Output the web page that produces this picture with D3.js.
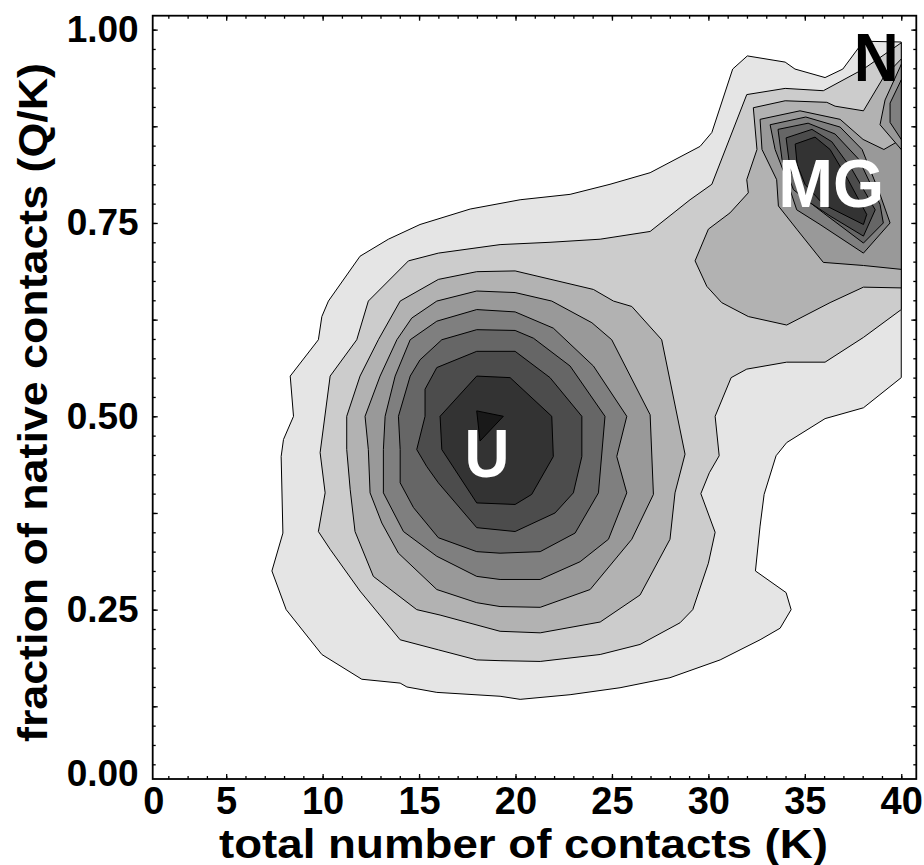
<!DOCTYPE html>
<html>
<head>
<meta charset="utf-8">
<script src="https://cdn.jsdelivr.net/npm/d3@7"></script>
<style>
  body { margin: 0; background: #fff; }
  svg text { font-family: "Liberation Sans", Arial, Helvetica, sans-serif; font-weight: bold; }
</style>
</head>
<body>
<div id="chart"></div>
<script>
// contour levels, lightest (outermost) to darkest
const levelFills = ["#e5e5e5", "#cccccc", "#b2b2b2", "#999999", "#7f7f7f", "#666666", "#4c4c4c", "#333333", "#191919"];

// each ring is a closed contour in data units: [K, Q]
const ringLight = [[13.41,0.729],[11.94,0.707],[10.30,0.649],[9.96,0.629],[9.78,0.599],[8.32,0.552],[8.49,0.500],[7.97,0.470],[7.85,0.448],[7.94,0.349],[7.37,0.300],[8.11,0.250],[9.96,0.192],[12.03,0.160],[14.02,0.155],[14.37,0.150],[15.92,0.143],[19.20,0.138],[20.24,0.134],[22.83,0.140],[25.42,0.149],[28.01,0.162],[30.61,0.185],[32.68,0.211],[33.72,0.226],[34.29,0.250],[34.03,0.272],[32.44,0.300],[32.68,0.358],[32.89,0.399],[33.51,0.449],[34.06,0.466],[36.05,0.497],[38.04,0.511],[40,0.550],[40,0.984],[38.04,0.985],[36.97,0.949],[36.05,0.938],[34.49,0.949],[33.98,0.958],[32.02,0.966],[31.26,0.949],[30.18,0.867],[29.57,0.849],[26.98,0.815],[24.90,0.800],[22.83,0.787],[20.24,0.780],[17.65,0.768],[15.05,0.748]];

const ringLevel2 = [[19.20,0.722],[16.00,0.711],[14.45,0.701],[12.37,0.649],[11.77,0.599],[10.39,0.552],[9.87,0.453],[10.13,0.401],[9.78,0.351],[10.39,0.328],[11.94,0.274],[14.02,0.211],[16.00,0.198],[17.99,0.185],[19.20,0.184],[21.28,0.183],[24.39,0.192],[26.46,0.205],[28.53,0.233],[29.19,0.250],[30.00,0.310],[30.35,0.350],[29.61,0.400],[30.05,0.427],[30.56,0.449],[30.35,0.500],[31.18,0.550],[31.99,0.561],[34.06,0.570],[36.05,0.570],[38.04,0.602],[40,0.638],[40,0.983],[38.04,0.949],[35.96,0.921],[33.98,0.924],[31.99,0.916],[30.18,0.800],[29.05,0.780],[26.98,0.739],[24.39,0.729],[21.79,0.725]];

// unfolded basin (U)
const ringU3 = [[19.98,0.688],[17.99,0.687],[16.00,0.677],[14.02,0.649],[12.89,0.599],[11.94,0.552],[11.25,0.500],[11.25,0.457],[11.43,0.405],[11.68,0.351],[12.63,0.293],[14.88,0.250],[16.09,0.243],[19.20,0.222],[21.28,0.220],[24.39,0.234],[26.46,0.269],[28.01,0.341],[28.27,0.401],[28.79,0.451],[27.58,0.599],[26.03,0.642],[25.08,0.649],[24.04,0.664]];
const ringU4 = [[19.98,0.660],[17.99,0.662],[15.92,0.649],[14.62,0.627],[13.85,0.599],[12.98,0.552],[12.20,0.500],[12.37,0.457],[12.46,0.401],[13.07,0.362],[13.93,0.323],[15.92,0.276],[17.99,0.259],[19.20,0.254],[21.28,0.253],[23.87,0.276],[26.03,0.341],[27.15,0.399],[26.98,0.502],[24.99,0.599],[23.96,0.621],[21.88,0.649]];
const ringU5 = [[19.98,0.635],[17.99,0.638],[15.92,0.623],[14.54,0.599],[13.76,0.552],[13.24,0.500],[13.15,0.457],[13.15,0.401],[14.19,0.351],[15.92,0.319],[17.99,0.293],[19.20,0.289],[21.28,0.289],[23.35,0.312],[24.82,0.341],[25.77,0.401],[25.25,0.448],[25.77,0.500],[24.04,0.565],[21.96,0.614]];
const ringU6 = [[19.98,0.611],[17.99,0.612],[16.18,0.599],[15.05,0.573],[14.54,0.552],[13.93,0.500],[14.02,0.457],[14.02,0.414],[14.71,0.382],[16.00,0.343],[17.99,0.325],[19.20,0.323],[21.28,0.325],[23.09,0.349],[24.30,0.401],[24.64,0.500],[22.83,0.565],[20.93,0.601]];
const ringU7 = [[19.98,0.584],[17.99,0.584],[15.92,0.563],[15.31,0.535],[15.31,0.500],[14.88,0.457],[15.40,0.435],[16.00,0.414],[17.99,0.356],[19.98,0.351],[22.05,0.375],[23.00,0.401],[23.44,0.448],[23.44,0.500],[21.79,0.550]];
const ringU8 = [[19.72,0.550],[17.99,0.552],[16.09,0.500],[16.18,0.457],[17.99,0.388],[19.98,0.386],[20.84,0.399],[21.96,0.448],[21.88,0.500]];
const ringU9 = [[17.99,0.507],[19.37,0.500],[18.16,0.468]];

// misfolded basin (MG) and native corner (N)
const ringMG3 = [[40,0.962],[39.07,0.938],[38.04,0.895],[36.57,0.901],[36.14,0.906],[33.98,0.908],[32.33,0.899],[32.52,0.845],[31.99,0.806],[32.07,0.789],[31.12,0.763],[30.00,0.742],[29.31,0.701],[29.92,0.668],[30.69,0.647],[32.07,0.629],[34.06,0.618],[36.31,0.647],[38.04,0.667],[40,0.666]];
const ringMG4 = [[32.68,0.884],[34.75,0.895],[36.83,0.884],[38.02,0.858],[39.10,0.845],[40,0.858],[40,0.690],[38.04,0.695],[35.96,0.699],[34.58,0.742],[33.63,0.772],[33.54,0.806],[32.78,0.845]];
const ringMG5 = [[33.20,0.877],[35.05,0.887],[36.83,0.874],[37.97,0.845],[38.90,0.787],[39.42,0.750],[38.04,0.711],[35.79,0.748],[34.58,0.767],[34.06,0.806],[33.46,0.845]];
const ringMG6 = [[33.61,0.871],[35.17,0.879],[36.57,0.865],[37.81,0.832],[38.90,0.774],[39.07,0.750],[38.04,0.724],[35.96,0.763],[34.41,0.793],[33.82,0.832]];
const ringMG7 = [[34.03,0.860],[35.37,0.871],[36.40,0.855],[37.45,0.819],[38.65,0.767],[38.04,0.733],[36.31,0.759],[35.10,0.779],[34.24,0.819]];
const ringMG8 = [[34.50,0.852],[35.53,0.861],[36.31,0.845],[37.24,0.806],[38.21,0.761],[38.04,0.748],[35.96,0.774],[35.01,0.800],[34.60,0.826]];
const ringN4 = [[40,0.955],[39.16,0.909],[38.90,0.877],[40,0.845]];
const ringN5 = [[40,0.935],[39.42,0.905],[39.42,0.880],[40,0.858]];

const contourLevels = [
  { level: 0, rings: [ringLight] },
  { level: 1, rings: [ringLevel2] },
  { level: 2, rings: [ringU3, ringMG3] },
  { level: 3, rings: [ringU4, ringMG4, ringN4] },
  { level: 4, rings: [ringU5, ringMG5, ringN5] },
  { level: 5, rings: [ringU6, ringMG6] },
  { level: 6, rings: [ringU7, ringMG7] },
  { level: 7, rings: [ringU8, ringMG8] },
  { level: 8, rings: [ringU9] }
];

const xDomain = [1.19, 40.78];
const yDomain = [0.031, 1.018];
const xMinorTicks = d3.range(2, 41);
const xLabelTicks = [5, 10, 15, 20, 25, 30, 35, 40];
const yMinorTicks = d3.range(2, 41).map(i => i * 0.025);
const yMajorTicks = d3.range(1, 9).map(i => i * 0.125);
const yLabelTicks = [0.25, 0.5, 0.75, 1.0];

const basinLabels = [
  { text: "U", k: 18.52, q: 0.422, color: "#fff", len: 45 },
  { text: "MG", k: 36.37, q: 0.771, color: "#fff", len: 106 },
  { text: "N", k: 38.70, q: 0.933, color: "#000", len: 45 }
];

const width = 924, height = 865;
const frame = { left: 152.7, right: 916.3, top: 15.7, bottom: 779 };

const svg = d3.select("#chart").append("svg")
  .attr("width", width)
  .attr("height", height);

const x = d3.scaleLinear().domain(xDomain).range([frame.left, frame.right]);
const y = d3.scaleLinear().domain(yDomain).range([frame.bottom, frame.top]);

svg.append("clipPath").attr("id", "plot-clip")
  .append("rect")
  .attr("x", frame.left).attr("y", frame.top)
  .attr("width", frame.right - frame.left)
  .attr("height", frame.bottom - frame.top);

const line = d3.line()
  .x(d => x(d[0]))
  .y(d => y(d[1]))
  .curve(d3.curveLinearClosed);

const plot = svg.append("g").attr("clip-path", "url(#plot-clip)");

contourLevels.forEach(c => {
  plot.selectAll(null)
    .data(c.rings)
    .enter()
    .append("path")
    .attr("d", line)
    .attr("fill", levelFills[c.level])
    .attr("stroke", "#000")
    .attr("stroke-width", 1)
    .attr("stroke-linejoin", "round");
});

// basin labels
svg.selectAll(".basin")
  .data(basinLabels)
  .enter()
  .append("text")
  .attr("class", "basin")
  .attr("x", d => x(d.k))
  .attr("y", d => y(d.q))
  .attr("text-anchor", "middle")
  .attr("textLength", d => d.len)
  .attr("lengthAdjust", "spacingAndGlyphs")
  .style("font-size", "68px")
  .attr("fill", d => d.color)
  .text(d => d.text);

// ticks on all four sides, pointing inward
function tickAxis(axis, pos, vals, size) {
  const g = svg.append("g")
    .attr("transform", pos)
    .call(axis.tickValues(vals).tickSize(-size).tickFormat(""));
  g.select(".domain").remove();
  g.selectAll("line").attr("stroke-width", 1.3);
  return g;
}
tickAxis(d3.axisBottom(x), `translate(0,${frame.bottom})`, xMinorTicks, 3);
tickAxis(d3.axisBottom(x), `translate(0,${frame.bottom})`, xLabelTicks, 5);
tickAxis(d3.axisTop(x), `translate(0,${frame.top})`, xMinorTicks, 3);
tickAxis(d3.axisTop(x), `translate(0,${frame.top})`, xLabelTicks, 5);
tickAxis(d3.axisLeft(y), `translate(${frame.left},0)`, yMinorTicks, 3);
tickAxis(d3.axisLeft(y), `translate(${frame.left},0)`, yMajorTicks, 5);
tickAxis(d3.axisRight(y), `translate(${frame.right},0)`, yMinorTicks, 3);
tickAxis(d3.axisRight(y), `translate(${frame.right},0)`, yMajorTicks, 5);

// tick labels
const xLabels = svg.append("g")
  .attr("transform", `translate(0,${frame.bottom})`)
  .call(d3.axisBottom(x).tickValues(xLabelTicks).tickSize(0).tickPadding(8).tickFormat(d3.format("d")));
xLabels.select(".domain").remove();
xLabels.selectAll("text").style("font-size", "38px").attr("fill", "#000").attr("font-family", null);

const yLabels = svg.append("g")
  .attr("transform", `translate(${frame.left},0)`)
  .call(d3.axisLeft(y).tickValues(yLabelTicks).tickSize(0).tickPadding(14).tickFormat(d3.format(".2f")));
yLabels.select(".domain").remove();
yLabels.selectAll("text").style("font-size", "37px").attr("fill", "#000").attr("font-family", null);

// corner labels for the origin
svg.append("text")
  .attr("x", frame.left + 1)
  .attr("y", frame.bottom + 8)
  .attr("dy", "0.71em")
  .attr("text-anchor", "middle")
  .style("font-size", "38px")
  .text(d3.format("d")(0));
svg.append("text")
  .attr("x", frame.left - 14)
  .attr("y", frame.bottom - 5)
  .attr("dy", "0.32em")
  .attr("text-anchor", "end")
  .style("font-size", "37px")
  .text(d3.format(".2f")(0));

// frame
svg.append("rect")
  .attr("x", frame.left).attr("y", frame.top)
  .attr("width", frame.right - frame.left)
  .attr("height", frame.bottom - frame.top)
  .attr("fill", "none")
  .attr("stroke", "#000")
  .attr("stroke-width", 1.8);

// axis titles
svg.append("text")
  .attr("x", 523.5)
  .attr("y", 858)
  .attr("text-anchor", "middle")
  .attr("textLength", 609)
  .attr("lengthAdjust", "spacingAndGlyphs")
  .style("font-size", "40px")
  .text("total number of contacts (K)");

svg.append("text")
  .attr("transform", "translate(47,402.5) rotate(-90)")
  .attr("text-anchor", "middle")
  .attr("textLength", 679)
  .attr("lengthAdjust", "spacingAndGlyphs")
  .style("font-size", "40px")
  .text("fraction of native contacts (Q/K)");
</script>
</body>
</html>
